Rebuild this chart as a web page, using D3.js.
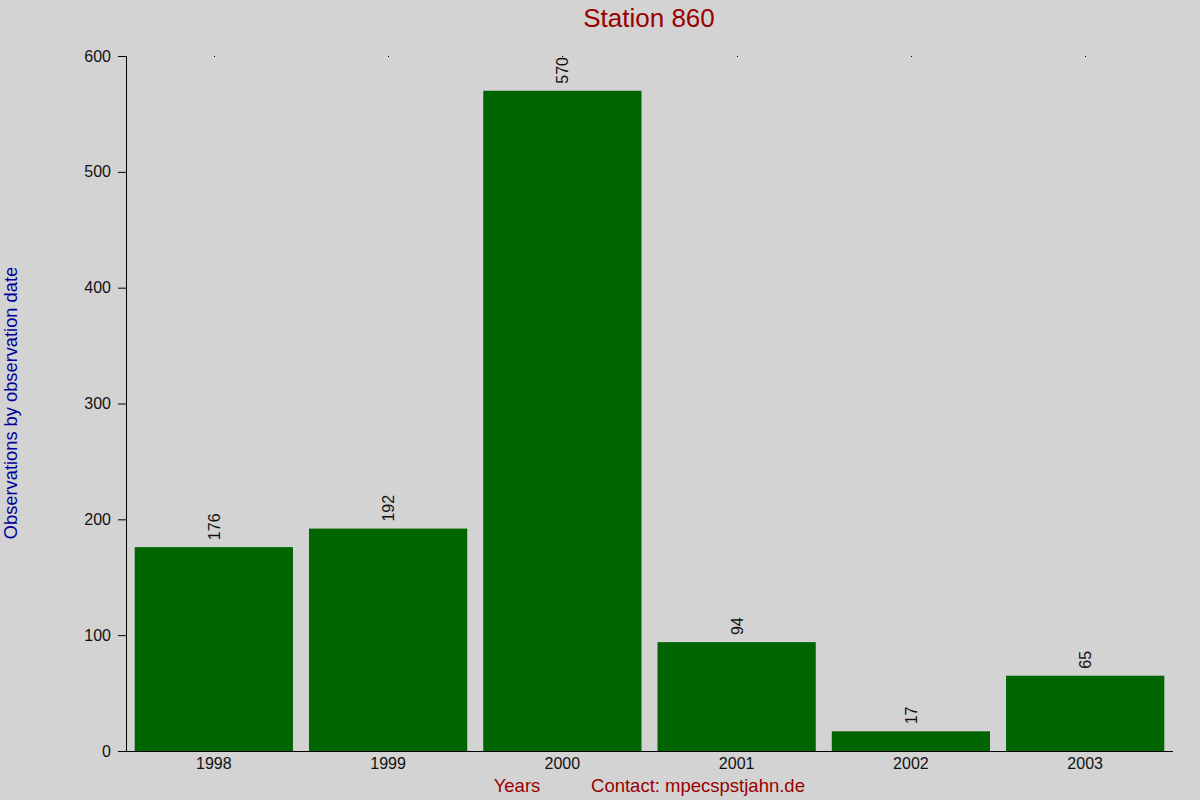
<!DOCTYPE html>
<html>
<head>
<meta charset="utf-8">
<script src="https://cdnjs.cloudflare.com/ajax/libs/d3/7.8.5/d3.min.js"></script>
<style>
  body { margin: 0; background: #d3d3d3; }
  svg { display: block; font-family: "Liberation Sans", Arial, sans-serif; }
</style>
</head>
<body>
<script>
var years = ['1998', '1999', '2000', '2001', '2002', '2003'];
var counts = [176, 192, 570, 94, 17, 65];
var yTicks = [0, 100, 200, 300, 400, 500, 600];

var width = 1200, height = 800;
var margin = {top: 56, right: 27, bottom: 49, left: 126};

var svg = d3.select('body').append('svg')
  .attr('width', width)
  .attr('height', height);

svg.append('rect')
  .attr('width', width)
  .attr('height', height)
  .attr('fill', '#d3d3d3');

var x = d3.scaleBand()
  .domain(years)
  .range([margin.left, width - margin.right])
  .paddingInner(0.092)
  .paddingOuter(0.05);

var y = d3.scaleLinear()
  .domain([0, 600])
  .range([height - margin.bottom, margin.top]);

// bars
svg.append('g').selectAll('rect')
  .data(counts)
  .enter().append('rect')
    .attr('x', function(d, i) { return x(years[i]); })
    .attr('y', function(d) { return y(d); })
    .attr('width', x.bandwidth())
    .attr('height', function(d) { return y(0) - y(d); })
    .attr('fill', '#006400');

// value labels, rotated
svg.append('g').selectAll('text')
  .data(counts)
  .enter().append('text')
    .attr('transform', function(d, i) {
      return 'translate(' + (x(years[i]) + x.bandwidth() / 2 + 6) + ',' + (y(d) - 7) + ') rotate(-90)';
    })
    .attr('font-size', 16)
    .attr('fill', '#111')
    .text(function(d) { return d; });

// y axis
var yAxis = d3.axisLeft(y)
  .tickValues(yTicks)
  .tickSize(8)
  .tickPadding(7);

var gy = svg.append('g')
  .attr('transform', 'translate(' + margin.left + ',0)')
  .call(yAxis);
gy.attr('font-family', null);
gy.select('.domain').attr('d', 'M0.5,' + y(600) + 'V' + y(0));
gy.selectAll('text').attr('font-size', 16).attr('fill', '#111');

// x axis
var xAxis = d3.axisBottom(x)
  .tickSize(0)
  .tickPadding(7);

var gx = svg.append('g')
  .attr('transform', 'translate(0,' + y(0) + ')')
  .call(xAxis);
gx.attr('font-family', null);
gx.select('.domain').attr('d', 'M' + (margin.left - 8) + ',0.5H' + (width - margin.right));
gx.selectAll('text').attr('font-size', 16).attr('fill', '#111');

// little marks along the top
svg.append('g').selectAll('rect')
  .data(years)
  .enter().append('rect')
    .attr('x', function(d) { return Math.round(x(d) + x.bandwidth() / 2); })
    .attr('y', margin.top)
    .attr('width', 1)
    .attr('height', 1)
    .attr('fill', '#000');

// titles
svg.append('text')
  .attr('x', 649)
  .attr('y', 27)
  .attr('text-anchor', 'middle')
  .attr('font-size', 26)
  .attr('fill', '#990000')
  .text('Station 860');

svg.append('text')
  .attr('transform', 'translate(17,403) rotate(-90)')
  .attr('text-anchor', 'middle')
  .attr('font-size', 18.3)
  .attr('fill', '#000099')
  .text('Observations by observation date');

svg.append('text')
  .attr('x', 517)
  .attr('y', 792)
  .attr('text-anchor', 'middle')
  .attr('font-size', 18.5)
  .attr('fill', '#990000')
  .text('Years');

svg.append('text')
  .attr('x', 698)
  .attr('y', 792)
  .attr('text-anchor', 'middle')
  .attr('font-size', 18.5)
  .attr('fill', '#990000')
  .text('Contact: mpecspstjahn.de');
</script>
</body>
</html>
